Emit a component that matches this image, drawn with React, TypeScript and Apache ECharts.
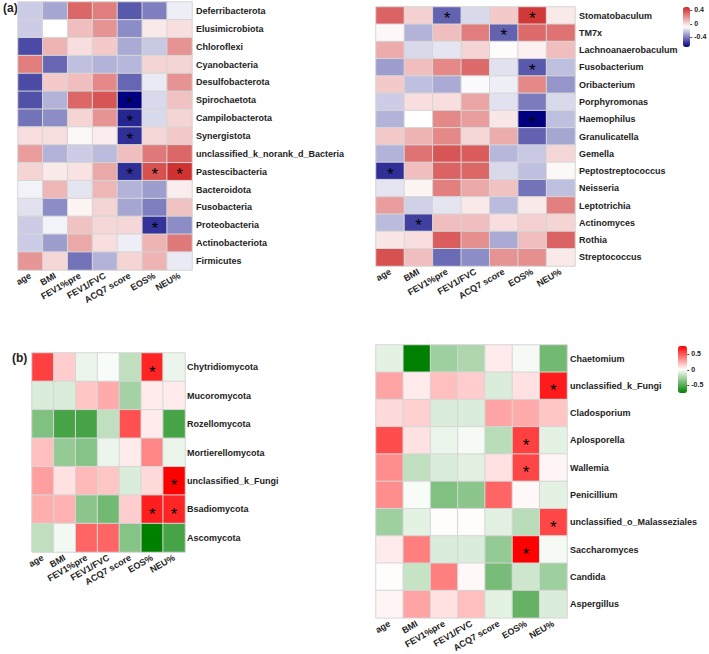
import React, { useEffect, useRef } from "react";
import * as echarts from "echarts";

const xCats = ["age", "BMI", "FEV1%pre", "FEV1/FVC", "ACQ7 score", "EOS%", "NEU%"];

const bacPhyla = [
  "Deferribacterota", "Elusimicrobiota", "Chloroflexi", "Cyanobacteria", "Desulfobacterota",
  "Spirochaetota", "Campilobacterota", "Synergistota", "unclassified_k_norank_d_Bacteria",
  "Pastescibacteria", "Bacteroidota", "Fusobacteria", "Proteobacteria", "Actinobacteriota", "Firmicutes",
];
const bacPhylaVals = [
  [-0.22, -0.31, 0.32, 0.26, -0.49, -0.4, -0.14],
  [-0.22, -0.1, 0.08, 0.2, -0.37, -0.04, -0.01],
  [-0.52, 0.11, -0.01, 0.05, -0.3, -0.23, 0.2],
  [0.26, -0.46, -0.25, -0.28, -0.27, 0.02, 0.02],
  [-0.52, 0.05, 0.08, 0.23, -0.46, -0.15, 0.2],
  [-0.51, -0.28, 0.32, 0.37, -0.7, -0.19, 0.07],
  [-0.43, -0.37, 0.02, 0.2, -0.61, -0.19, 0.02],
  [-0.01, -0.01, -0.08, -0.05, -0.59, 0.01, 0.05],
  [0.17, -0.28, -0.22, -0.26, 0.08, 0.27, 0.32],
  [0.02, -0.04, -0.02, 0.14, -0.59, 0.38, 0.47],
  [-0.13, 0.1, -0.16, 0.1, -0.28, -0.33, -0.05],
  [-0.17, -0.37, -0.07, 0.02, -0.31, -0.4, 0.07],
  [-0.22, -0.13, 0.07, 0.01, 0.01, -0.58, -0.37],
  [-0.22, -0.33, 0.14, -0.01, -0.14, 0.11, 0.27],
  [0.19, 0.01, -0.43, -0.28, 0.02, 0.11, -0.15],
];
const bacPhylaSig = [[5, 4], [6, 4], [7, 4], [9, 4], [9, 5], [9, 6], [12, 5]];

const bacGenus = [
  "Stomatobaculum", "TM7x", "Lachnoanaerobaculum", "Fusobacterium", "Oribacterium", "Porphyromonas",
  "Haemophilus", "Granulicatella", "Gemella", "Peptostreptococcus", "Neisseria", "Leptotrichia",
  "Actinomyces", "Rothia", "Streptococcus",
];
const bacGenusVals = [
  [0.33, 0.03, -0.47, -0.19, 0.05, 0.45, -0.04],
  [-0.08, -0.28, 0.08, 0.26, -0.47, 0.31, 0.29],
  [0.13, -0.19, -0.16, 0.02, -0.09, -0.06, 0.08],
  [-0.33, 0.08, 0.23, 0.31, -0.17, -0.49, -0.25],
  [0.05, -0.25, -0.3, -0.11, -0.14, 0.23, -0.35],
  [-0.22, -0.01, -0.01, 0.15, -0.17, -0.41, -0.19],
  [-0.28, -0.1, 0.23, 0.17, -0.03, -0.7, -0.25],
  [0.05, 0.11, 0.23, 0.01, 0.13, -0.47, -0.31],
  [-0.28, 0.29, 0.37, 0.35, -0.27, -0.23, 0.01],
  [-0.59, 0.08, 0.33, 0.32, -0.19, -0.25, -0.08],
  [-0.16, -0.07, 0.25, 0.14, 0.07, -0.43, -0.25],
  [0.17, -0.21, -0.16, -0.04, -0.26, -0.04, 0.25],
  [-0.26, -0.55, 0.08, 0.08, -0.01, 0.03, 0.02],
  [-0.03, -0.01, 0.35, 0.21, -0.3, 0.08, 0.33],
  [0.38, 0.08, -0.45, -0.37, 0.2, 0.21, -0.04],
];
const bacGenusSig = [[0, 2], [0, 5], [1, 4], [3, 5], [6, 5], [9, 0], [12, 1]];

const fungPhyla = [
  "Chytridiomycota", "Mucoromycota", "Rozellomycota", "Mortierellomycota",
  "unclassified_k_Fungi", "Bsadiomycota", "Ascomycota",
];
const fungPhylaVals = [
  [0.57, 0.15, -0.06, -0.02, -0.19, 0.65, -0.06],
  [-0.11, -0.11, 0.17, 0.25, -0.27, 0.06, 0.06],
  [-0.38, -0.55, -0.55, -0.19, 0.52, 0.06, -0.55],
  [0.19, -0.32, -0.36, -0.06, 0.06, 0.36, -0.06],
  [0.29, 0.09, 0.21, 0.17, -0.11, 0.11, 0.76],
  [0.24, 0.23, -0.34, -0.42, 0.15, 0.67, 0.65],
  [-0.19, -0.04, 0.46, 0.46, -0.36, -0.76, -0.55],
];
const fungPhylaSig = [[0, 5], [4, 6], [5, 5], [5, 6]];

const fungGenus = [
  "Chaetomium", "unclassified_k_Fungi", "Cladosporium", "Aplosporella", "Wallemia",
  "Penicillium", "unclassified_o_Malasseziales", "Saccharomyces", "Candida", "Aspergillus",
];
const fungGenusVals = [
  [-0.08, -0.76, -0.29, -0.24, 0.06, -0.03, -0.42],
  [0.27, 0.06, 0.19, 0.15, -0.11, 0.09, 0.68],
  [0.11, 0.14, -0.11, -0.11, 0.27, 0.25, 0.17],
  [0.53, 0.09, -0.06, -0.03, -0.21, 0.57, -0.08],
  [0.34, -0.19, -0.11, -0.09, 0.09, 0.55, 0.03],
  [0.34, -0.02, -0.38, -0.34, 0.46, 0.02, -0.08],
  [-0.29, -0.08, 0.01, 0.01, -0.09, -0.21, 0.55],
  [0.06, 0.38, -0.11, -0.11, -0.32, 0.76, -0.03],
  [0.01, -0.17, 0.38, 0.02, -0.4, -0.15, -0.29],
  [0.03, 0.27, 0.09, 0.19, -0.08, -0.46, -0.11],
];
const fungGenusSig = [[1, 6], [3, 5], [4, 5], [6, 6], [7, 5]];

const bacRange = [-0.7, 0.5];
const fungRange = [-0.76, 0.76];
const bacTicks = [0.4, 0, -0.4];
const fungTicks = [0.5, 0, -0.5];

const FONT = 'Arial, "Liberation Sans", Helvetica, sans-serif';

function buildData(vals: number[][], sig: number[][]) {
  const sigSet = new Set(sig.map((s) => s[0] + "-" + s[1]));
  const out: any[] = [];
  vals.forEach((row, r) =>
    row.forEach((v, c) => {
      out.push({ value: [c, r, v], sig: sigSet.has(r + "-" + c) });
    })
  );
  return out;
}

export default function App() {
  const ref = useRef<HTMLDivElement>(null);
  useEffect(() => {
    if (!ref.current) return;
    const chart = echarts.init(ref.current, null, { renderer: "svg" });

    const panels = [
      { rows: bacPhyla, vals: bacPhylaVals, sig: bacPhylaSig, grid: { left: 18, top: 2, width: 174, height: 268 }, labelPad: 0, starOff: 3, yMargin: 4 },
      { rows: bacGenus, vals: bacGenusVals, sig: bacGenusSig, grid: { left: 376, top: 7, width: 199, height: 259 }, labelPad: 0, starOff: 3, yMargin: 4 },
      { rows: fungPhyla, vals: fungPhylaVals, sig: fungPhylaSig, grid: { left: 32, top: 353, width: 153, height: 199 }, labelPad: 10, starOff: 5, yMargin: 2 },
      { rows: fungGenus, vals: fungGenusVals, sig: fungGenusSig, grid: { left: 376, top: 345, width: 191, height: 273 }, labelPad: 11, starOff: 5, yMargin: 3 },
    ];

    const legendBar = (left: number, top: number, h: number, range: number[], ticks: number[]) =>
      ticks.map((t) => ({
        type: "text",
        left: left,
        top: top + ((range[1] - t) / (range[1] - range[0])) * h - 4,
        style: { text: "- " + String(t), font: `bold 7px ${FONT}`, fill: "#222" },
      }));

    const option: any = {
      animation: false,
      backgroundColor: "#fff",
      grid: panels.map((p) => ({ ...p.grid, containLabel: false })),
      xAxis: panels.map((p, i) => ({
        type: "category",
        gridIndex: i,
        data: xCats,
        axisLine: { show: false },
        axisTick: { show: false },
        splitLine: { show: false },
        axisLabel: {
          rotate: 30,
          margin: 5,
          interval: 0,
          fontSize: 9,
          fontWeight: "bold",
          fontFamily: FONT,
          color: "#222",
        },
      })),
      yAxis: panels.map((p, i) => ({
        type: "category",
        gridIndex: i,
        data: p.rows,
        inverse: true,
        position: "right",
        axisLine: { show: false },
        axisTick: { show: false },
        splitLine: { show: false },
        axisLabel: {
          interval: 0,
          margin: p.yMargin,
          fontSize: 9,
          fontWeight: "bold",
          fontFamily: FONT,
          color: "#222",
          padding: [p.labelPad, 0, 0, 0],
        },
      })),
      visualMap: [
        {
          type: "continuous",
          seriesIndex: [0, 1],
          min: bacRange[0],
          max: bacRange[1],
          dimension: 2,
          inRange: { color: ["#000080", "#ffffff", "#CD2626"] },
          calculable: false,
          hoverLink: false,
          left: 683,
          top: 7,
          itemWidth: 7,
          itemHeight: 40,
          padding: 0,
          text: null,
          showLabel: false,
        },
        {
          type: "continuous",
          seriesIndex: [2, 3],
          min: fungRange[0],
          max: fungRange[1],
          dimension: 2,
          inRange: { color: ["#008000", "#ffffff", "#ff0000"] },
          calculable: false,
          hoverLink: false,
          left: 678,
          top: 346,
          itemWidth: 9,
          itemHeight: 47,
          padding: 0,
          text: null,
          showLabel: false,
        },
      ],
      series: panels.map((p, i) => ({
        type: "heatmap",
        xAxisIndex: i,
        yAxisIndex: i,
        data: buildData(p.vals, p.sig),
        itemStyle: { borderColor: "#d6d6d6", borderWidth: 1 },
        label: {
          show: true,
          formatter: (d: any) => (d.data.sig ? "*" : ""),
          fontSize: 17,
          fontFamily: FONT,
          color: "#000",
          offset: [0, p.starOff],
        },
        emphasis: { disabled: true },
      })),
      graphic: [
        { type: "text", left: 3, top: 2, style: { text: "(a)", font: `bold 12px ${FONT}`, fill: "#222" } },
        { type: "text", left: 12, top: 352, style: { text: "(b)", font: `bold 12px ${FONT}`, fill: "#222" } },
        ...legendBar(690, 7, 40, bacRange, bacTicks),
        ...legendBar(687, 346, 47, fungRange, fungTicks),
      ],
    };
    chart.setOption(option);
    return () => chart.dispose();
  }, []);
  return (
    <div
      ref={ref}
      style={{ position: "fixed", left: 0, top: 0, width: 709, height: 654, background: "#fff" }}
    />
  );
}
